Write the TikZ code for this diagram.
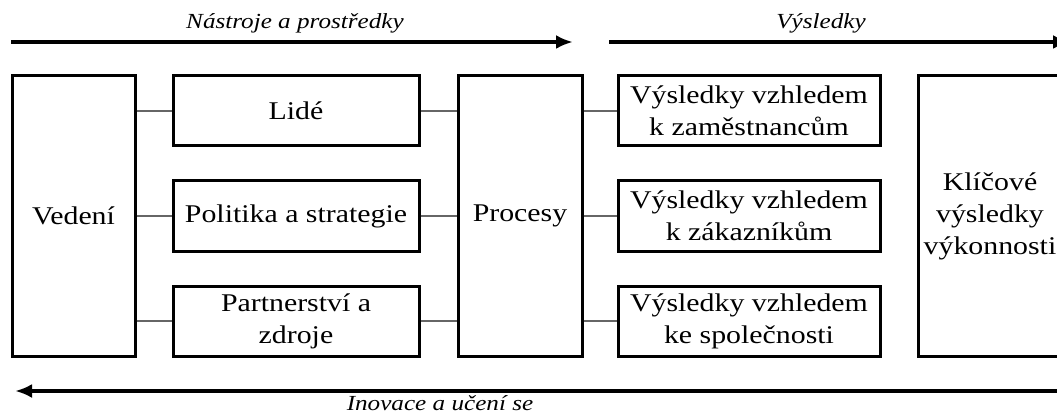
\documentclass[tikz,border=0pt]{standalone}
\usepackage{fontspec}
\setmainfont{Liberation Serif}[FakeStretch=1.17]
\usetikzlibrary{arrows.meta}
\begin{document}
\begin{tikzpicture}[x=1pt,y=-1pt,>={Latex[length=17pt,width=14pt]},
every node/.style={text=black},
box/.style={draw=black,line width=3pt,align=center,inner sep=0pt,font=\fontsize{25.5}{32}\selectfont},
tall/.style={box,minimum width=#1,minimum height=280pt},
row/.style={box,minimum width=#1,minimum height=70pt},
flow/.style={line width=3.4pt,->},
flowlabel/.style={font=\fontsize{21.5}{24}\selectfont\itshape},
link/.style={draw=black!60,line width=1.5pt}]

\useasboundingbox (0,0) rectangle (1057,414);

\node[tall=123pt] (ved)  at (73.5,216) {Vedení};
\node[row=246pt]  (lide) at (296,111) {Lidé};
\node[row=246pt]  (pol)  at (296,216) {Politika a strategie};
\node[row=246pt]  (par)  at (296,321) {Partnerství a\\zdroje};
\node[tall=124pt] (proc) at (520,216) {Procesy};
\node[row=262pt]  (vzam) at (749,111) {Výsledky vzhledem\\k zaměstnancům};
\node[row=262pt]  (vzak) at (749,216) {Výsledky vzhledem\\k zákazníkům};
\node[row=262pt]  (vspo) at (749,321) {Výsledky vzhledem\\ke společnosti};
\node[tall=144pt] (klic) at (990,216) {Klíčové\\výsledky\\výkonnosti};

\draw[link] (ved.east |- lide.west) -- (lide.west);
\draw[link] (ved.east |- pol.west)  -- (pol.west);
\draw[link] (ved.east |- par.west)  -- (par.west);
\draw[link] (lide.east) -- (lide.east -| proc.west);
\draw[link] (pol.east)  -- (pol.east -| proc.west);
\draw[link] (par.east)  -- (par.east -| proc.west);
\draw[link] (proc.east |- vzam.west) -- (vzam.west);
\draw[link] (proc.east |- vzak.west) -- (vzak.west);
\draw[link] (proc.east |- vspo.west) -- (vspo.west);

% nahore a dole
\coordinate (nas1) at (11,42);
\coordinate (nas2) at (573,42);
\coordinate (vys1) at (609,42);
\coordinate (vys2) at (1070,42);
\coordinate (ino1) at (1060,391);
\coordinate (ino2) at (15,391);

\draw[flow] (nas1) -- (nas2);
\draw[flow] (vys1) -- (vys2);
\draw[flow] (ino1) -- (ino2);

\node[flowlabel] (nastroje) at (295,23) {Nástroje a prostředky};
\node[flowlabel] (vysledky) at (821,23) {Výsledky};
\node[flowlabel] (inovace)  at (440,403) {Inovace a učení se};
\end{tikzpicture}
\end{document}
